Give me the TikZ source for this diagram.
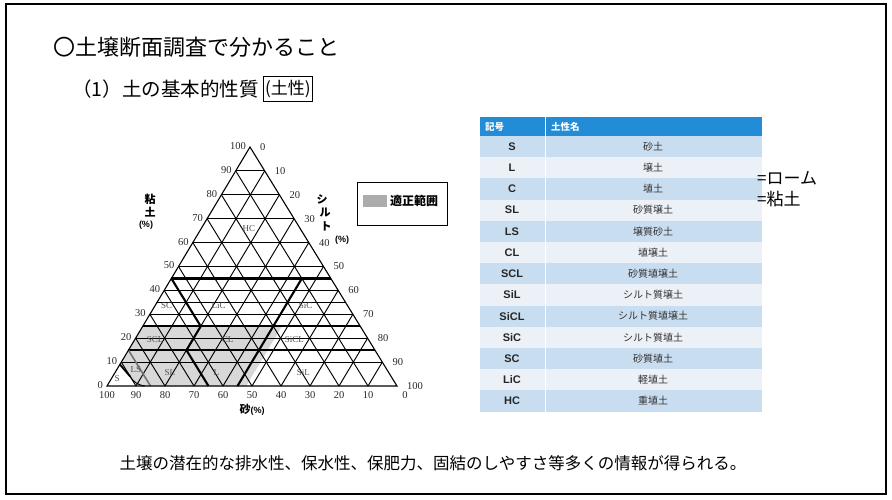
\documentclass[tikz,border=0pt]{standalone}
\usepackage{fontspec}
\setmainfont{Liberation Serif}
\setsansfont{Liberation Sans}
\newfontfamily\jp{Noto Sans CJK JP}
\definecolor{hdrblue}{RGB}{34,140,214}
\definecolor{rowA}{RGB}{201,221,240}
\definecolor{rowB}{RGB}{236,241,247}
\definecolor{okgray}{RGB}{216,216,216}
\definecolor{leggray}{RGB}{172,172,172}
\definecolor{inkgray}{RGB}{40,40,40}
\tikzset{
  gridline/.style={line width=0.95pt,black},
  bndline/.style={line width=2.1pt,black},
  axnum/.style={font=\fontsize{10.5}{10.5}\selectfont,text=inkgray,inner sep=0pt},
  region/.style={font=\fontsize{9}{9}\selectfont,text=black!70,inner sep=0pt},
  axtitle/.style={font=\jp\bfseries\fontsize{11}{11}\selectfont,inner sep=0pt},
  symcell/.style={font=\sffamily\bfseries\fontsize{11}{11}\selectfont,text=black!85,inner sep=0pt},
  namecell/.style={font=\jp\fontsize{10}{10}\selectfont,text=black!80,inner sep=0pt},
  hdrcell/.style={font=\jp\bfseries\fontsize{9.5}{9.5}\selectfont,text=white,inner sep=0pt,anchor=west},
  hand/.style={font=\jp\fontsize{17}{17}\selectfont,inner sep=0pt,anchor=west}
}
\begin{document}
\begin{tikzpicture}[x=1pt,y=-1pt]
\useasboundingbox (0,0) rectangle (892,499);
\fill[white] (0,0) rectangle (892,499);
% frame
\draw[line width=1.6pt] (6,4) rectangle (886,494);
% titles
\node[anchor=west,font=\jp\fontsize{22}{22}\selectfont,inner sep=0pt] (title) at (53,47) {〇土壌断面調査で分かること};
\node[anchor=west,font=\jp\fontsize{19.5}{19.5}\selectfont,inner sep=0pt] (sub) at (72,89) {（1）土の基本的性質};
\node[anchor=west,draw,line width=1pt,font=\jp\fontsize{17}{17}\selectfont,inner xsep=2pt,minimum height=25pt] (subbox) at ([xshift=4pt]sub.east) {(土性)};
% triangle
\begin{scope}[shift={(107,386)},x={(2.9pt,0pt)},y={(1.43pt,2.39pt)}]
  % suitable range shading
  \fill[okgray] (0,25) -- (48,25) -- (48,0) -- (13,0) .. controls (10,0.5) and (8,2) .. (6,4) -- (0,9) -- cycle;
  % grid
  \foreach \v in {10,20,...,90}{
    \draw[gridline] (0,\v) -- ({100-\v},\v);
    \draw[gridline] (\v,0) -- (\v,{100-\v});
    \draw[gridline] (\v,0) -- (0,\v);
  }
  \draw[gridline] (0,35) -- (65,35);
  % class boundaries
  \draw[bndline] (0,15) -- (85,15);
  \draw[bndline] (0,25) -- (75,25);
  \draw[bndline] (0,45) -- (55,45);
  \draw[bndline] (45,0) -- (45,45);
  \draw[bndline] (35,0) -- (20,15) -- (20,25) -- (0,45);
  \draw[line width=1.6pt,black!55] (15,0) -- (0,15);
  \draw[line width=1.8pt] (0,9) -- (6,4);
  \draw[line width=1pt] (6,4) .. controls (8,2) and (10,0.5) .. (13,0);
  % outline
  \coordinate (BL) at (0,0);
  \coordinate (BR) at (100,0);
  \coordinate (AP) at (0,100);
  \draw[line width=1.1pt] (BL) -- (BR) -- (AP) -- cycle;
  % axis numbers
  \foreach \v in {0,10,...,100}{
    \node[axnum,anchor=east,xshift=-4pt,yshift=1pt] (cl\v) at (0,\v) {\v};
    \node[axnum,anchor=west,xshift=10pt] (si\v) at ({\v},{100-\v}) {\v};
  }
  \foreach \v in {10,20,...,100}{
    \node[axnum,anchor=north,yshift=-5pt] (sa\v) at ({100-\v},0) {\v};
  }
  \node[axnum,anchor=north,yshift=-5pt,xshift=8pt] (sa0) at (100,0) {0};
  % region labels
  \node[region] (rHC) at (0,67) [xshift=46pt,yshift=-3pt] {HC};
  \node[region] (rSC) at (4,33.5) {SC};
  \node[region] (rLiC) at (22,33.5) {LiC};
  \node[region] (rSiC) at (52,33.5) {SiC};
  \node[region] (rSCL) at (7,19.5) {SCL};
  \node[region] (rCL) at (32,19.5) {CL};
  \node[region] (rSiCL) at (55,19.5) {SiCL};
  \node[region] (rSL) at (19,5.5) {SL};
  \node[region] (rL) at (35,5.5) {L};
  \node[region] (rSiL) at (65,5.5) {SiL};
  \node[region] (rS) at (2,3) {S};
  \node[region] (rLS) at (6.5,7) {LS};
\end{scope}
% axis titles
\node[axtitle] (ct1) at (150,199) {粘};
\node[axtitle] (ct2) at (150,212) {土};
\node[axtitle,font=\sffamily\bfseries\fontsize{9}{9}\selectfont] (ct3) at (146,225) {(\%)};
\node[axtitle] (st1) at (322,199) {シ};
\node[axtitle] (st2) at (325,213) {ル};
\node[axtitle] (st3) at (326,226) {ト};
\node[axtitle,font=\sffamily\bfseries\fontsize{9}{9}\selectfont] (st4) at (342,240) {(\%)};
\node[axtitle] (sat) at (252,410) {砂\textsf{\fontsize{9}{9}\selectfont(\%)}};
% legend
\draw[line width=0.8pt] (357,182) rectangle (447,225);
\fill[leggray] (363,195) rectangle (387,207);
\node[anchor=west,font=\jp\bfseries\fontsize{12}{12}\selectfont,inner sep=0pt] (leg) at (390,201) {適正範囲};
% table
\fill[hdrblue] (480,117) rectangle (762,136);
\foreach \i/\sym/\nm in {0/S/砂土,1/L/壌土,2/C/埴土,3/SL/砂質壌土,4/LS/壌質砂土,5/CL/埴壌土,6/SCL/砂質埴壌土,7/SiL/シルト質壌土,8/SiCL/シルト質埴壌土,9/SiC/シルト質埴土,10/SC/砂質埴土,11/LiC/軽埴土,12/HC/重埴土}{
  \pgfmathsetmacro\ytop{136+21.2*\i}
  \pgfmathtruncatemacro\odd{mod(\i,2)}
  \ifnum\odd=0 \fill[rowA] (480,\ytop) rectangle (762,\ytop+21.2); \else \fill[rowB] (480,\ytop) rectangle (762,\ytop+21.2); \fi
  \node[symcell] (sym\i) at (512,\ytop+10.6) {\sym};
  \node[namecell] (nm\i) at (653,\ytop+10.6) {\nm};
}
\draw[white,line width=1pt] (545,117) -- (545,411.6);
\node[hdrcell] (h1) at (485,127) {記号};
\node[hdrcell] (h2) at (551,127) {土性名};
% handwriting
\node[hand] (hw1) at (757,178) {=ローム};
\node[hand] (hw2) at (757,199) {=粘土};
% bottom text
\node[font=\jp\fontsize{16.5}{16.5}\selectfont,inner sep=0pt] (foot) at (433,463) {土壌の潜在的な排水性、保水性、保肥力、固結のしやすさ等多くの情報が得られる。};
\end{tikzpicture}
\end{document}
